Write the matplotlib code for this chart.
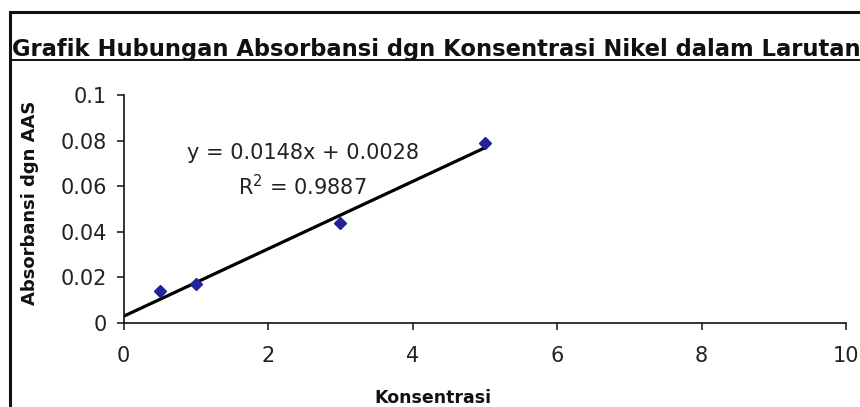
import matplotlib
matplotlib.use("Agg")
import matplotlib.pyplot as plt
from matplotlib.patches import Rectangle
from matplotlib.lines import Line2D
import numpy as np

# Nickel standards measured by AAS
konsentrasi = [0.5, 1, 3, 5]
absorbansi = [0.0141, 0.0169, 0.044, 0.0789]

# Excel linear trendline, as reported on the chart
slope = 0.0148
intercept = 0.0028
r_squared = 0.9887

x_ticks = [0, 2, 4, 6, 8, 10]
y_ticks = [0, 0.02, 0.04, 0.06, 0.08, 0.1]
y_tick_labels = ["0", "0.02", "0.04", "0.06", "0.08", "0.1"]

W, H = 860, 407
fig = plt.figure(figsize=(W / 100, H / 100), dpi=100)
fig.patch.set_facecolor("white")

# chart frame (cut off at the right and bottom)
fig.patches.append(Rectangle((10 / W, -0.5), 2.0, 0.5 + 1 - 12 / H, fill=False,
                             edgecolor="#111111", linewidth=2.2,
                             transform=fig.transFigure, figure=fig))

ax = fig.add_axes([123.5 / W, 1 - 322.7 / H, (846 - 123.5) / W, (322.7 - 95) / H])

ax.plot(konsentrasi, absorbansi, linestyle="none", marker="D", markersize=6.5,
        color="#22229a", zorder=3)

xs = np.array([0, max(konsentrasi)])
ax.plot(xs, slope * xs + intercept, color="black", linewidth=2.3, zorder=2)

ax.set_xlim(0, 10)
ax.set_ylim(0, 0.1)
ax.set_xticks(x_ticks)
ax.set_xticklabels([str(t) for t in x_ticks])
ax.set_yticks(y_ticks)
ax.set_yticklabels(y_tick_labels)

for side in ("top", "right"):
    ax.spines[side].set_visible(False)
for side in ("left", "bottom"):
    ax.spines[side].set_linewidth(1.2)
    ax.spines[side].set_color("#111111")
ax.tick_params(axis="both", direction="out", length=5, width=1.1, colors="#111111",
               labelsize=15, labelcolor="#222222")
ax.tick_params(axis="x", pad=12)
ax.tick_params(axis="y", pad=7)

ax.text(2.48, 0.0746, f"y = {slope}x + {intercept}", ha="center", va="center",
        fontsize=15, color="#222222")
ax.text(2.48, 0.0596, f"R$^{{2}}$ = {r_squared}", ha="center", va="center",
        fontsize=15, color="#222222")

fig.text(30 / W, 1 - 203 / H, "Absorbansi dgn AAS", rotation=90, ha="center",
         va="center", fontsize=13, fontweight="bold", color="#111111")
fig.text(433 / W, 1 - 389 / H, "Konsentrasi", ha="center", va="top",
         fontsize=12.5, fontweight="bold", color="#111111")

title = fig.text(12 / W, 1 - 56 / H, "Grafik Hubungan Absorbansi dgn Konsentrasi Nikel dalam Larutan",
                 ha="left", va="baseline", fontsize=16.3, fontweight="bold", color="#111111")

# underline the title across its rendered width
fig.canvas.draw()
bb = title.get_window_extent().transformed(fig.transFigure.inverted())
uy = 1 - 59.5 / H
fig.lines.append(Line2D([bb.x0, min(bb.x1, 1.0)], [uy, uy], color="#111111", linewidth=1.4,
                        transform=fig.transFigure, figure=fig))

fig.savefig("out.png", dpi=100, facecolor="white")
